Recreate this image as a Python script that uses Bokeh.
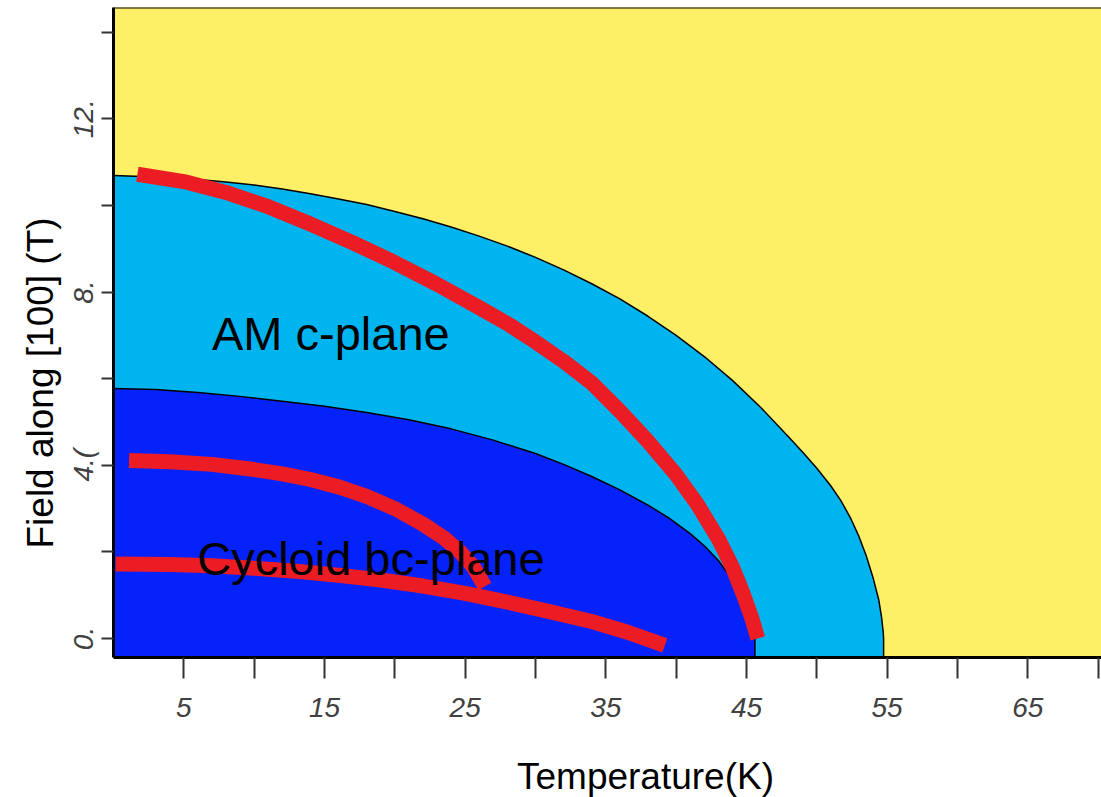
from bokeh.plotting import figure
from bokeh.layouts import column
from bokeh.models import Range1d, FixedTicker, Label, Title, Span
from bokeh.embed import file_html
from bokeh.resources import INLINE

# ---- data ----
# boundary of the AM c-plane phase (light blue)
am_T = [0, 2, 4, 6, 8, 10, 12, 14, 16, 18, 20, 22, 24, 26, 28, 30, 32, 34, 36, 38, 40,
        42, 44, 46, 48, 49, 50, 51, 51.7, 52.4, 53, 53.5, 54, 54.4, 54.6, 54.72, 54.75,
        54.75]
am_H = [10.69, 10.67, 10.64, 10.60, 10.54, 10.47, 10.38, 10.27, 10.15, 10.02, 9.86,
        9.69, 9.50, 9.29, 9.06, 8.80, 8.51, 8.19, 7.84, 7.44, 7.00, 6.51, 5.96, 5.34,
        4.65, 4.30, 3.93, 3.52, 3.19, 2.78, 2.35, 1.92, 1.40, 0.90, 0.50, 0.15, 0.0,
        -1.0]
# boundary of the cycloid bc-plane phase (dark blue)
cyc_T = [0, 3, 6, 9, 12, 15, 18, 21, 24, 27, 30, 32, 34, 36, 38, 39.5, 41, 42, 43, 44,
         44.8, 45.3, 45.6, 45.6]
cyc_H = [5.77, 5.75, 5.68, 5.59, 5.48, 5.36, 5.22, 5.05, 4.84, 4.58, 4.27, 4.02, 3.74,
         3.43, 3.08, 2.78, 2.42, 2.14, 1.80, 1.36, 0.88, 0.45, 0.0, -1.0]
# red measured lines
red1_T = [1.7, 5, 8, 11, 14, 17, 20, 23, 26, 28.2, 30, 32, 34, 36, 38, 40, 41.5, 43, 44,
          44.8, 45.4, 45.8]
red1_H = [10.72, 10.55, 10.30, 9.97, 9.57, 9.14, 8.68, 8.18, 7.64, 7.23, 6.85, 6.40,
          5.90, 5.25, 4.55, 3.78, 3.10, 2.30, 1.65, 1.00, 0.45, 0.0]
red2_T = [1.1, 4, 7, 10, 12, 14, 16, 18, 20, 22, 23.5, 24.7, 25.6, 26.4]
red2_H = [4.11, 4.08, 4.02, 3.90, 3.80, 3.67, 3.50, 3.28, 3.00, 2.64, 2.32, 1.98, 1.65, 1.20]
red3_T = [0.15, 4, 7, 10, 13, 16, 19, 22, 25, 28, 31, 34, 36.5, 39.2]
red3_H = [1.72, 1.71, 1.68, 1.62, 1.55, 1.46, 1.35, 1.21, 1.04, 0.84, 0.62, 0.39, 0.15, -0.16]

x_major = [5, 15, 25, 35, 45, 55, 65]
x_minor = [10, 20, 30, 40, 50, 60, 70]
y_major = [0, 4, 8, 12]
y_minor = [2, 6, 10, 14]
y_labels = ["0.", "4.(", "8.", "12."]

YELLOW = "#FDF067"
LIGHT = "#00B4EF"
DARK = "#0522FA"
RED = "#EC1C24"
FONT = "Liberation Sans"

Y_TOP = 14.57
p = figure(width=1101, height=750, output_backend="svg", toolbar_location=None,
           x_range=Range1d(0, 70.24), y_range=Range1d(-0.44, Y_TOP),
           min_border_left=113, min_border_right=0, min_border_top=7,
           min_border_bottom=93)
p.title.visible = False
p.xgrid.visible = False
p.ygrid.visible = False
p.background_fill_color = YELLOW
p.border_fill_color = "white"
p.outline_line_color = None
p.add_layout(Span(location=Y_TOP, dimension="width", line_color="black", line_width=2))

# regions
p.patch(am_T + [0], am_H + [-1.0], fill_color=LIGHT, line_color=None)
p.patch(cyc_T + [0], cyc_H + [-1.0], fill_color=DARK, line_color=None)
p.line(am_T, am_H, line_color="black", line_width=1.5)
p.line(cyc_T, cyc_H, line_color="black", line_width=1.5)

# red lines
for xs, ys in [(red1_T, red1_H), (red2_T, red2_H), (red3_T, red3_H)]:
    p.line(xs, ys, line_color=RED, line_width=15, line_cap="butt", line_join="round")

p.add_layout(Label(x=7.0, y=7.04, text="AM c-plane", text_font=FONT,
                   text_font_size="47px", text_color="black",
                   text_baseline="alphabetic", text_align="left"))
p.add_layout(Label(x=5.95, y=1.84, text="Cycloid bc-plane", text_font=FONT,
                   text_font_size="47px", text_color="black",
                   text_baseline="alphabetic", text_align="left"))

# axes
for ax in (p.xaxis, p.yaxis):
    ax.axis_line_color = "black"
    ax.axis_line_width = 3
    ax.major_tick_line_color = "#333333"
    ax.minor_tick_line_color = "#333333"
    ax.major_tick_line_width = 2
    ax.minor_tick_line_width = 2
    ax.major_tick_in = 0
    ax.minor_tick_in = 0
    ax.major_label_text_font = FONT
    ax.major_label_text_font_style = "italic"
    ax.major_label_text_font_size = "28px"
    ax.major_label_text_color = "#404040"

p.xaxis.ticker = FixedTicker(ticks=x_major, minor_ticks=x_minor)
p.xaxis.major_tick_out = 21
p.xaxis.minor_tick_out = 21
p.xaxis.major_label_standoff = 19

p.yaxis.ticker = FixedTicker(ticks=y_major, minor_ticks=y_minor)
p.yaxis.major_label_overrides = {v: s for v, s in zip(y_major, y_labels)}
p.yaxis.major_tick_out = 12
p.yaxis.minor_tick_out = 12
p.yaxis.major_label_orientation = "vertical"
p.yaxis.major_label_standoff = 2

# y axis title
p.add_layout(Title(text="Field along [100] (T)", align="left", offset=109,
                   text_font=FONT, text_font_size="37px", text_font_style="normal",
                   text_color="black"), "left")

# x axis title strip below the plot (its frame is aligned with the plot frame)
q = figure(width=1101, height=47, output_backend="svg", toolbar_location=None,
           x_range=Range1d(0, 1101), y_range=Range1d(0, 47), min_border=0,
           x_axis_type=None, y_axis_type=None)
q.title.visible = False
q.outline_line_color = None
q.background_fill_color = "white"
q.border_fill_color = "white"
q.add_layout(Label(x=532, y=21, x_units="screen", y_units="screen",
                   text="Temperature(K)", text_font=FONT, text_font_size="37px",
                   text_color="black", text_align="center", text_baseline="middle"))

layout = column(p, q, spacing=0)
open("out.html", "w").write(file_html(layout, INLINE))
